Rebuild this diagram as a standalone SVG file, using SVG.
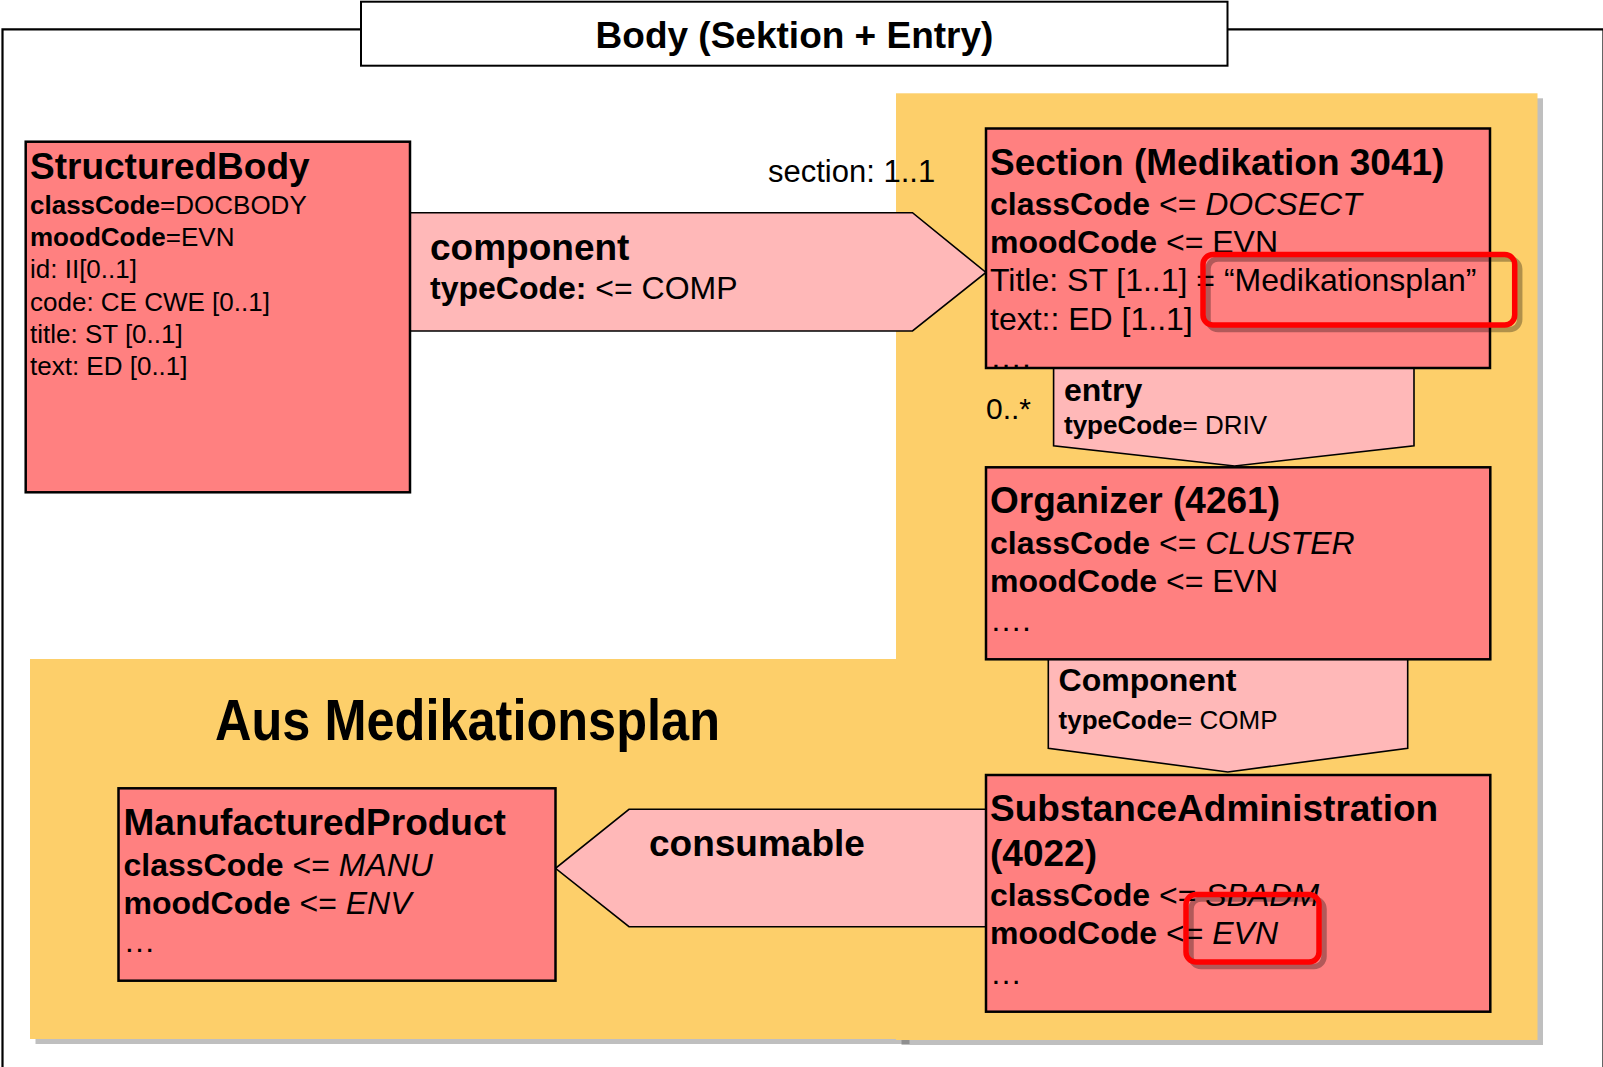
<svg xmlns="http://www.w3.org/2000/svg" width="1603" height="1067" viewBox="0 0 1603 1067">
<style>
text{font-family:"Liberation Sans",Arial,Helvetica,sans-serif;fill:#000}
.b{font-weight:bold}
.i{font-style:italic}
.t37{font-size:37px;font-weight:bold}
.t32{font-size:32px}
.t26{font-size:26px}
.node{fill:#FF8080;stroke:#000;stroke-width:2.5}
.arrow{fill:#FFB8B8;stroke:#000;stroke-width:1.6;stroke-linejoin:miter}
.yellow{fill:#FDCF6A}
.shadow{fill:#000;fill-opacity:0.25}
.hl{fill:none;stroke:#FF0000;stroke-width:5.5}
.hls{fill:none;stroke:#000;stroke-opacity:0.3;stroke-width:5.5}
</style>
<rect width="1603" height="1067" fill="#fff"/>
<g id="frame">
<path d="M2.5,1067 V29.3 H1603.5 V1067" fill="none" stroke="#000" stroke-width="2.2"/>
<rect x="361" y="1.7" width="866.5" height="64" fill="#fff" stroke="#000" stroke-width="2"/>
<text x="794.5" y="48" text-anchor="middle" class="t37">Body (Sektion + Entry)</text>
</g>
<g id="background">
<rect class="shadow" x="35.5" y="664" width="874" height="380"/>
<rect class="shadow" x="901.5" y="98.3" width="641.5" height="946.7"/>
<rect class="yellow" x="30" y="659" width="874" height="380"/>
<rect class="yellow" x="896" y="93.3" width="641.5" height="946.7"/>
<text x="215" y="740" font-size="58" font-weight="bold" textLength="505" lengthAdjust="spacingAndGlyphs">Aus Medikationsplan</text>
</g>
<g id="connectors">
<polygon class="arrow" points="410,212.7 912.5,212.7 986,272.5 912.5,331 410,331"/>
<text x="430" y="260" class="t37">component</text>
<text x="430" y="299" class="t32"><tspan class="b">typeCode:</tspan> &lt;= COMP</text>
<text x="768" y="182" font-size="31">section: 1..1</text>
<polygon class="arrow" points="1053.6,368 1414,368 1414,445.7 1234.6,466 1053.6,445.7"/>
<text x="1064" y="401" class="t32 b">entry</text>
<text x="1064" y="434" class="t26"><tspan class="b">typeCode</tspan>= DRIV</text>
<text x="986" y="419" font-size="30">0..*</text>
<polygon class="arrow" points="1048.3,659.3 1407.7,659.3 1407.7,748.3 1227.8,772 1048.3,748.3"/>
<text x="1058.6" y="691" class="t32 b">Component</text>
<text x="1058.6" y="729" class="t26"><tspan class="b">typeCode</tspan>= COMP</text>
<polygon class="arrow" points="990,809.3 629,809.3 555.5,868.3 629,926.7 990,926.7"/>
<text x="649" y="856" class="t37">consumable</text>
</g>
<g id="structuredBody">
<rect class="node" x="25.7" y="141.7" width="384.3" height="350.6"/>
<text x="30" y="179" class="t37">StructuredBody</text>
<text x="30" y="214" class="t26"><tspan class="b">classCode</tspan>=DOCBODY</text>
<text x="30" y="246" class="t26"><tspan class="b">moodCode</tspan>=EVN</text>
<text x="30" y="278" class="t26">id: II[0..1]</text>
<text x="30" y="310.5" class="t26">code: CE CWE [0..1]</text>
<text x="30" y="342.5" class="t26">title: ST [0..1]</text>
<text x="30" y="374.5" class="t26">text: ED [0..1]</text>
</g>
<g id="section">
<rect class="node" x="986" y="128.5" width="504" height="239.5"/>
<text x="990" y="175" class="t37">Section (Medikation 3041)</text>
<text x="990" y="215" class="t32"><tspan class="b">classCode</tspan> &lt;= <tspan class="i">DOCSECT</tspan></text>
<text x="990" y="253" class="t32"><tspan class="b">moodCode</tspan> &lt;= EVN</text>
<text x="990" y="291" class="t32">Title: ST [1..1] = “Medikationsplan”</text>
<text x="990" y="330" class="t32">text:: ED [1..1]</text>
<text x="990" y="368" class="t32">….</text>
</g>
<g id="organizer">
<rect class="node" x="986" y="467.3" width="504.3" height="192"/>
<text x="990" y="513" class="t37">Organizer (4261)</text>
<text x="990" y="553.5" class="t32"><tspan class="b">classCode</tspan> &lt;= <tspan class="i">CLUSTER</tspan></text>
<text x="990" y="592" class="t32"><tspan class="b">moodCode</tspan> &lt;= EVN</text>
<text x="990" y="631" class="t32">….</text>
</g>
<g id="substanceAdministration">
<rect class="node" x="986" y="775" width="504.3" height="236.7"/>
<text x="990" y="821" class="t37">SubstanceAdministration</text>
<text x="990" y="866" class="t37">(4022)</text>
<text x="990" y="906" class="t32"><tspan class="b">classCode</tspan> &lt;= <tspan class="i">SBADM</tspan></text>
<text x="990" y="944" class="t32"><tspan class="b">moodCode</tspan> &lt;= <tspan class="i">EVN</tspan></text>
<text x="990" y="984" class="t32">…</text>
</g>
<g id="manufacturedProduct">
<rect class="node" x="118.5" y="788.3" width="437" height="192.4"/>
<text x="123.5" y="835" class="t37">ManufacturedProduct</text>
<text x="123.5" y="875.5" class="t32"><tspan class="b">classCode</tspan> &lt;= <tspan class="i">MANU</tspan></text>
<text x="123.5" y="913.5" class="t32"><tspan class="b">moodCode</tspan> &lt;= <tspan class="i">ENV</tspan></text>
<text x="123.5" y="952" class="t32">…</text>
</g>
<g id="highlights">
<rect class="hls" x="1208" y="259" width="311.7" height="70.5" rx="10"/>
<rect class="hl" x="1203" y="254.5" width="311.7" height="70.5" rx="10"/>
<rect class="hls" x="1191" y="899" width="133" height="67.5" rx="10"/>
<rect class="hl" x="1186" y="894.5" width="133" height="67.5" rx="10"/>
</g>
</svg>
